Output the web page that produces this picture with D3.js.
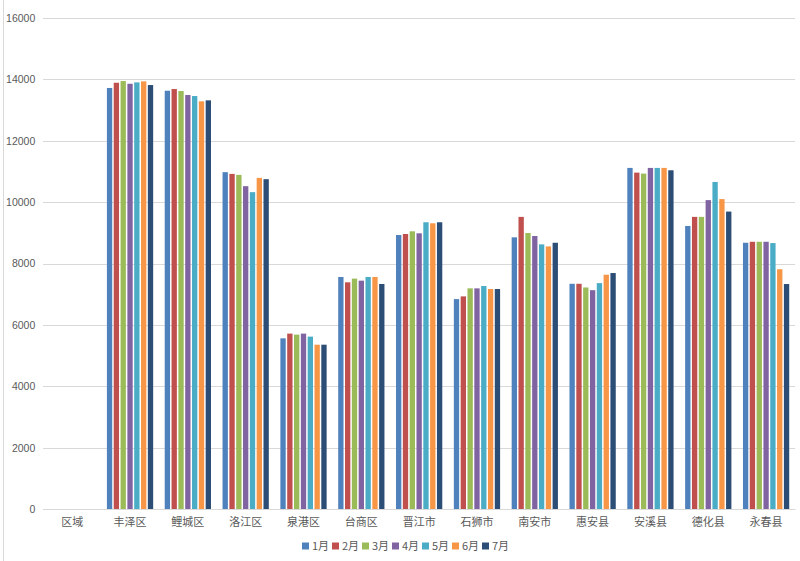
<!DOCTYPE html>
<html><head><meta charset="utf-8">
<script src="https://cdn.jsdelivr.net/npm/d3@7"></script>
<style>
html,body{margin:0;padding:0;background:#fff;}
svg{display:block;font-family:"Microsoft YaHei","Noto Sans CJK SC",sans-serif;}
</style></head>
<body><svg id="c" width="800" height="561"></svg>
<script>
const categories = ["区域","丰泽区","鲤城区","洛江区","泉港区","台商区","晋江市","石狮市","南安市","惠安县","安溪县","德化县","永春县"];
const seriesNames = ["1月","2月","3月","4月","5月","6月","7月"];
const colors = ["#4F81BD","#C0504D","#9BBB59","#8064A2","#4BACC6","#F79646","#2C4D75"];
// one value per category (区域 has no data)
const m1 = [null,13720,13630,10976,5561,7561,8928,6840,8853,7339,11115,9223,8676];
const m2 = [null,13890,13685,10920,5715,7387,8961,6928,9519,7339,10961,9519,8708];
const m3 = [null,13945,13620,10888,5682,7507,9049,7190,8994,7219,10929,9519,8708];
const m4 = [null,13857,13490,10520,5715,7441,8984,7190,8896,7131,11115,10066,8708];
const m5 = [null,13902,13457,10325,5617,7561,9344,7266,8623,7361,11115,10657,8666];
const m6 = [null,13935,13285,10790,5354,7561,9311,7168,8557,7634,11115,10099,7813];
const m7 = [null,13815,13317,10748,5354,7332,9344,7168,8676,7689,11038,9692,7331];
const yTicks = [0,2000,4000,6000,8000,10000,12000,14000,16000];

(function(){
const series = [m1,m2,m3,m4,m5,m6,m7];
const svg = d3.select("#c");
const W = 800, H = 561;
const pL = 43.3, pR = 795, pT = 18, pB = 509;

// chart border (left edge visible)
svg.append("line").attr("x1",3.5).attr("x2",3.5).attr("y1",0).attr("y2",H)
  .attr("stroke","#d9d9d9").attr("stroke-width",1);

const x = d3.scaleBand().domain(categories).range([pL,pR]).paddingInner(0.2).paddingOuter(0.1);
const xs = d3.scaleBand().domain(seriesNames).range([0,x.bandwidth()]).paddingInner(0.22);
const y = d3.scaleLinear().domain([0,16000]).range([pB,pT]);

// gridlines
const ga = svg.append("g").attr("transform",`translate(${pL},0)`)
  .call(d3.axisLeft(y).tickValues(yTicks).tickSize(-(pR-pL)).tickPadding(8).tickFormat(d3.format("d")));
ga.select(".domain").remove();
ga.selectAll(".tick line").attr("stroke","#d9d9d9").attr("shape-rendering","crispEdges");
ga.selectAll(".tick text").attr("fill","#595959").attr("font-size","10.5px")
  .attr("font-family","Liberation Sans, Arial, sans-serif");

// bars
const xBand = d3.scaleBand().domain(categories).range([pL,pR]);
series.forEach((vals,si)=>{
  svg.append("g").selectAll("rect").data(categories.map((c,i)=>({c,v:vals[i]})).filter(d=>d.v!=null))
    .join("rect")
    .attr("x",d=>x(d.c)+xs(seriesNames[si]))
    .attr("width",xs.bandwidth())
    .attr("y",d=>y(d.v))
    .attr("height",d=>y(0)-y(d.v))
    .attr("fill",colors[si]);
});

// x axis
const xa = svg.append("g").attr("transform",`translate(0,${pB})`)
  .call(d3.axisBottom(xBand).tickSize(0).tickPadding(9));
xa.select(".domain").attr("stroke","#d9d9d9");
xa.selectAll(".tick text").attr("fill","#595959").attr("font-size","11px")
  .attr("font-family","Noto Sans CJK SC, sans-serif");

// legend
const legend = svg.append("g").attr("transform","translate(302,546)");
seriesNames.forEach((n,i)=>{
  const g = legend.append("g").attr("transform",`translate(${i*30},0)`);
  g.append("rect").attr("x",0).attr("y",-3.5).attr("width",7).attr("height",7).attr("fill",colors[i]);
  g.append("text").attr("x",10).attr("y",0).attr("dy","0.35em").attr("fill","#595959")
    .attr("font-size","11px").attr("font-family","Noto Sans CJK SC, sans-serif").text(n);
});
})();
</script></body></html>
